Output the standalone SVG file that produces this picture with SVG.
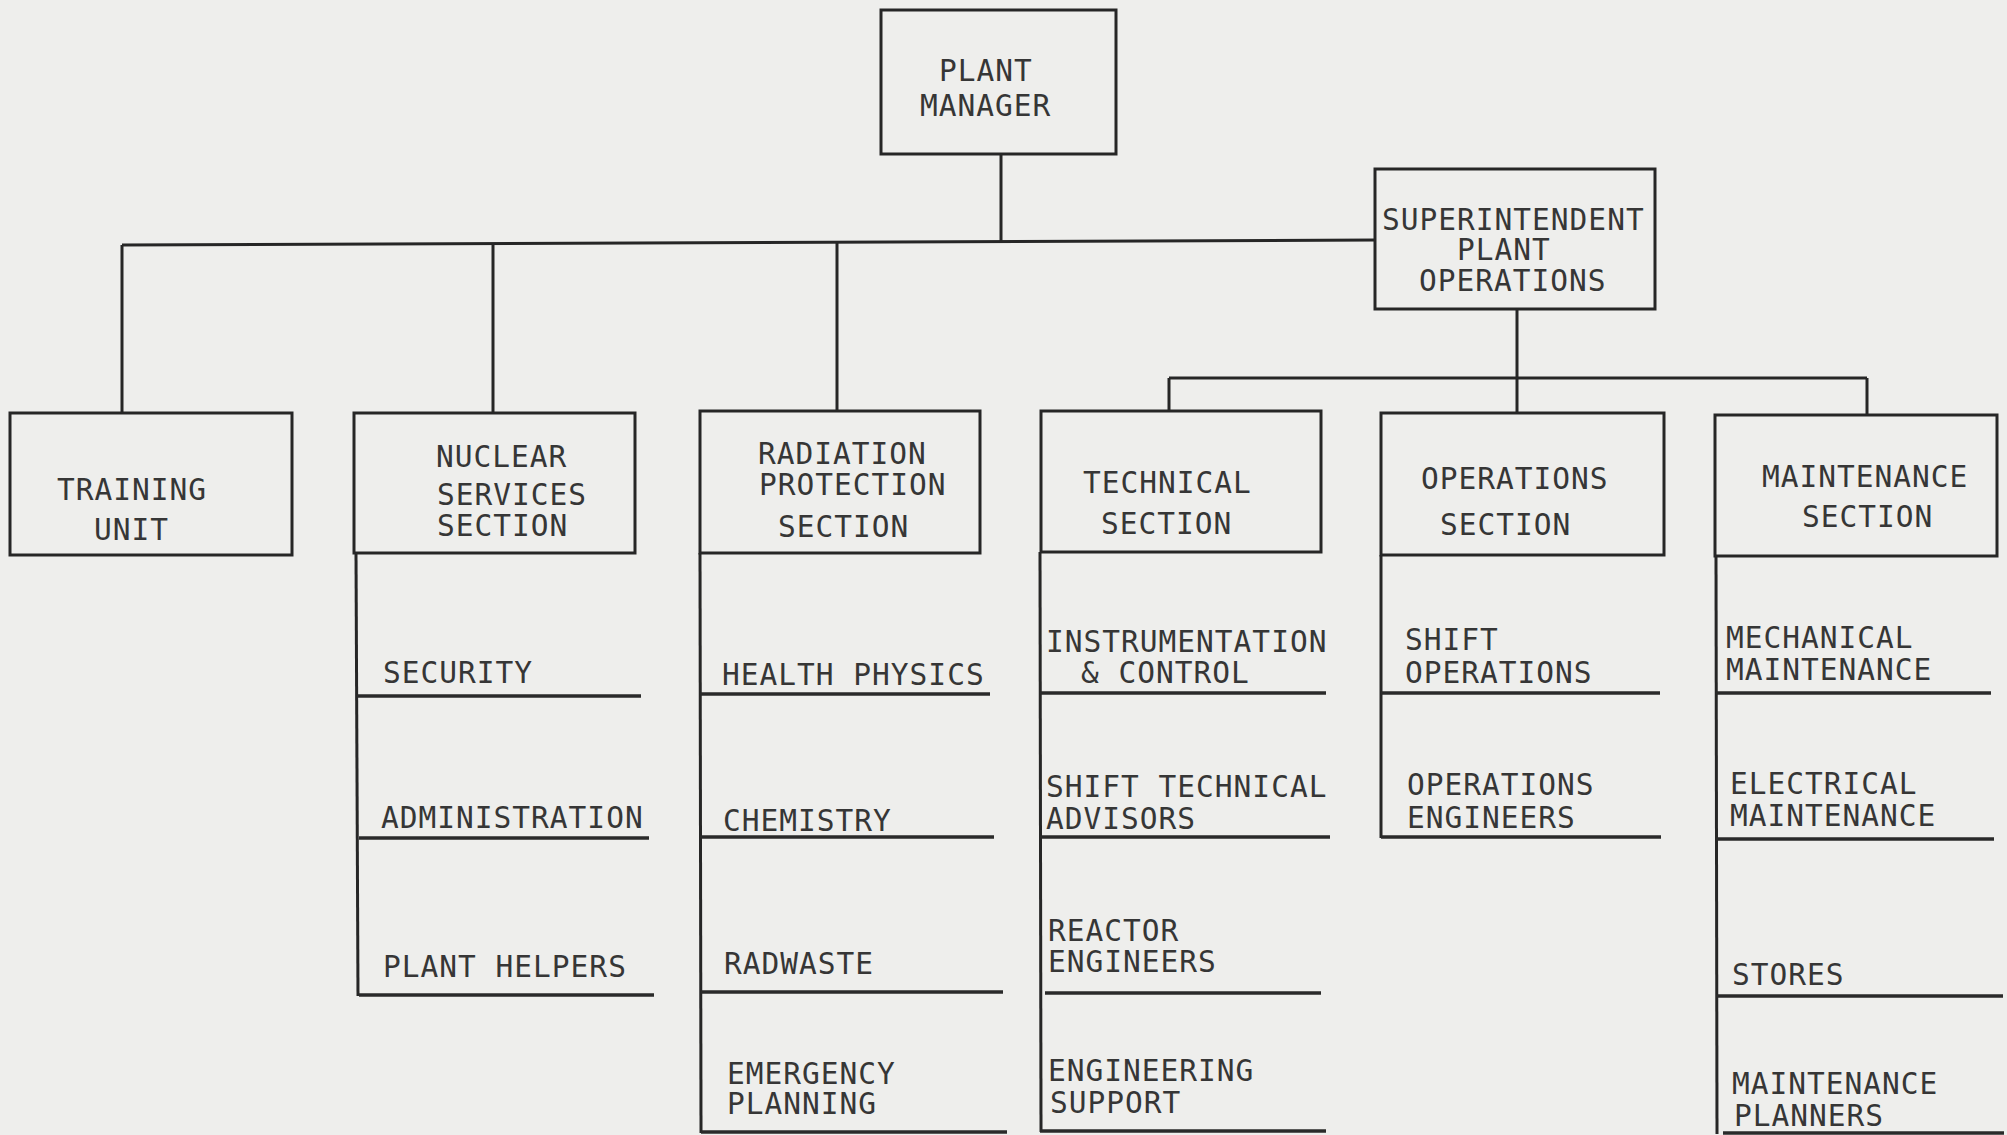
<svg xmlns="http://www.w3.org/2000/svg" width="2007" height="1135" viewBox="0 0 2007 1135">
<style>
.bg{fill:#eeeeec}
.box{fill:none;stroke:#262626;stroke-width:3}
.ln{stroke:#262626;stroke-width:3;fill:none}
.ul{stroke:#2a2a2a;stroke-width:3.5;fill:none}
text{font-family:"DejaVu Sans Mono","Liberation Mono",monospace;font-size:29.5px;letter-spacing:1px;fill:#363636}
</style>
<rect class="bg" x="0" y="0" width="2007" height="1135"/>
<g id="connectors">
<line class="ln" x1="1001" y1="154" x2="1001" y2="243"/>
<line class="ln" x1="122" y1="245" x2="1376" y2="240"/>
<line class="ln" x1="122" y1="245" x2="122" y2="412"/>
<line class="ln" x1="493" y1="244" x2="493" y2="413"/>
<line class="ln" x1="837" y1="243" x2="837" y2="411"/>
<line class="ln" x1="1517" y1="309" x2="1517" y2="413"/>
<line class="ln" x1="1169" y1="378" x2="1867" y2="378"/>
<line class="ln" x1="1169" y1="378" x2="1169" y2="411"/>
<line class="ln" x1="1867" y1="378" x2="1867" y2="415"/>
<line class="ln" x1="356" y1="553" x2="358" y2="996"/>
<line class="ln" x1="700" y1="553" x2="701" y2="1133"/>
<line class="ln" x1="1040" y1="552" x2="1041" y2="1132"/>
<line class="ln" x1="1381" y1="555" x2="1381" y2="838"/>
<line class="ln" x1="1716" y1="556" x2="1717" y2="1134"/>
</g>
<g id="plant-manager"><rect class="box" x="881" y="10" width="235" height="144"/><text x="939" y="81">PLANT</text><text x="920" y="116">MANAGER</text></g>
<g id="superintendent"><rect class="box" x="1375" y="169" width="280" height="140"/><text x="1382" y="230">SUPERINTENDENT</text><text x="1457" y="260">PLANT</text><text x="1419" y="291">OPERATIONS</text></g>
<g id="training-unit"><rect class="box" x="10" y="413" width="282" height="142"/><text x="57" y="500">TRAINING</text><text x="94" y="540">UNIT</text></g>
<g id="nuclear-services"><rect class="box" x="354" y="413" width="281" height="140"/><text x="436" y="467">NUCLEAR</text><text x="437" y="505">SERVICES</text><text x="437" y="536">SECTION</text></g>
<g id="radiation-protection"><rect class="box" x="700" y="411" width="280" height="142"/><text x="758" y="464">RADIATION</text><text x="759" y="495">PROTECTION</text><text x="778" y="537">SECTION</text></g>
<g id="technical"><rect class="box" x="1041" y="411" width="280" height="141"/><text x="1083" y="493">TECHNICAL</text><text x="1101" y="534">SECTION</text></g>
<g id="operations"><rect class="box" x="1381" y="413" width="283" height="142"/><text x="1421" y="489">OPERATIONS</text><text x="1440" y="535">SECTION</text></g>
<g id="maintenance"><rect class="box" x="1715" y="415" width="282" height="141"/><text x="1762" y="487">MAINTENANCE</text><text x="1802" y="527">SECTION</text></g>
<g id="security"><text x="383" y="683">SECURITY</text><line class="ul" x1="357" y1="696" x2="641" y2="696"/></g>
<g id="administration"><text x="381" y="828">ADMINISTRATION</text><line class="ul" x1="359" y1="838" x2="649" y2="838"/></g>
<g id="plant-helpers"><text x="383" y="977">PLANT HELPERS</text><line class="ul" x1="359" y1="995" x2="654" y2="995"/></g>
<g id="health-physics"><text x="722" y="685">HEALTH PHYSICS</text><line class="ul" x1="700" y1="694" x2="990" y2="694"/></g>
<g id="chemistry"><text x="723" y="831">CHEMISTRY</text><line class="ul" x1="700" y1="837" x2="994" y2="837"/></g>
<g id="radwaste"><text x="724" y="974">RADWASTE</text><line class="ul" x1="701" y1="992" x2="1003" y2="992"/></g>
<g id="emergency-planning"><text x="727" y="1084">EMERGENCY</text><text x="727" y="1114">PLANNING</text><line class="ul" x1="701" y1="1132" x2="1007" y2="1132"/></g>
<g id="instrumentation"><text x="1046" y="652">INSTRUMENTATION</text><text x="1081" y="683">&amp; CONTROL</text><line class="ul" x1="1040" y1="693" x2="1326" y2="693"/></g>
<g id="shift-technical"><text x="1046" y="797">SHIFT TECHNICAL</text><text x="1046" y="829">ADVISORS</text><line class="ul" x1="1040" y1="837" x2="1330" y2="837"/></g>
<g id="reactor-engineers"><text x="1048" y="941">REACTOR</text><text x="1048" y="972">ENGINEERS</text><line class="ul" x1="1045" y1="993" x2="1321" y2="993"/></g>
<g id="engineering-support"><text x="1048" y="1081">ENGINEERING</text><text x="1050" y="1113">SUPPORT</text><line class="ul" x1="1040" y1="1131" x2="1326" y2="1131"/></g>
<g id="shift-operations"><text x="1405" y="650">SHIFT</text><text x="1405" y="683">OPERATIONS</text><line class="ul" x1="1381" y1="693" x2="1660" y2="693"/></g>
<g id="operations-engineers"><text x="1407" y="795">OPERATIONS</text><text x="1407" y="828">ENGINEERS</text><line class="ul" x1="1381" y1="837" x2="1661" y2="837"/></g>
<g id="mechanical"><text x="1726" y="648">MECHANICAL</text><text x="1726" y="680">MAINTENANCE</text><line class="ul" x1="1716" y1="693" x2="1991" y2="693"/></g>
<g id="electrical"><text x="1730" y="794">ELECTRICAL</text><text x="1730" y="826">MAINTENANCE</text><line class="ul" x1="1716" y1="839" x2="1994" y2="839"/></g>
<g id="stores"><text x="1732" y="985">STORES</text><line class="ul" x1="1716" y1="996" x2="2003" y2="996"/></g>
<g id="maintenance-planners"><text x="1732" y="1094">MAINTENANCE</text><text x="1734" y="1126">PLANNERS</text><line class="ul" x1="1723" y1="1133" x2="2004" y2="1133"/></g>
</svg>
